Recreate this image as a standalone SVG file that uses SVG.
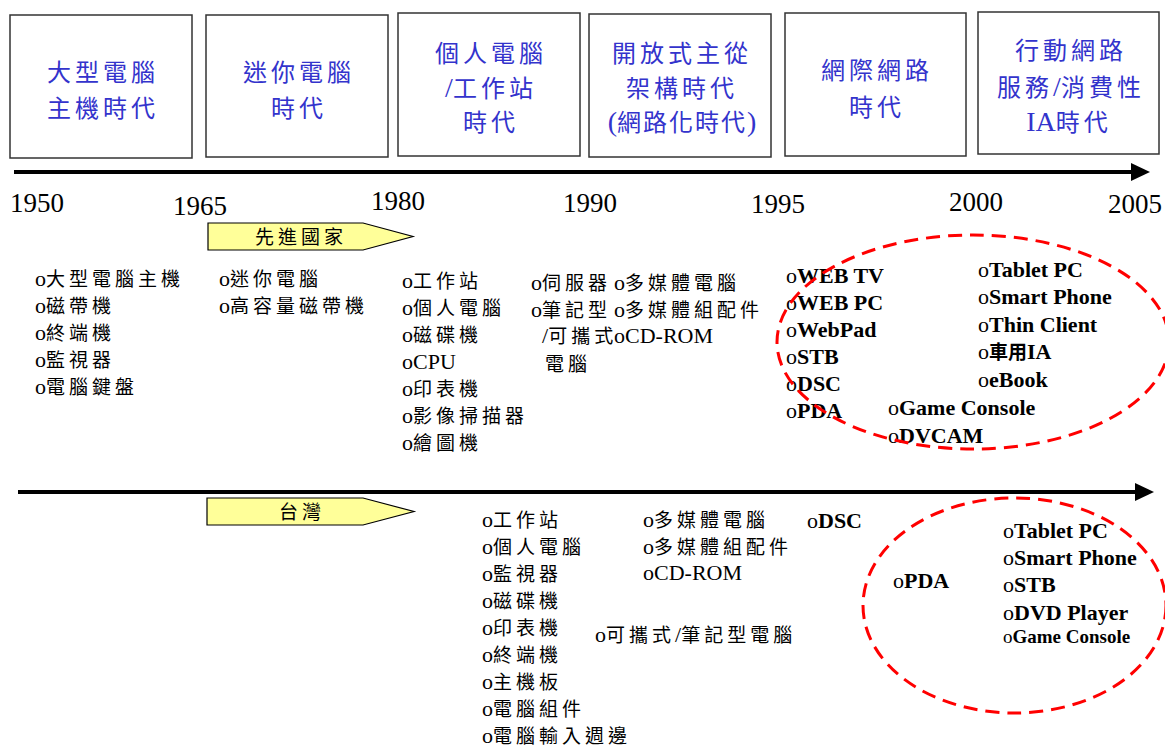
<svg xmlns="http://www.w3.org/2000/svg" width="1165" height="747" viewBox="0 0 1165 747">
<defs>
<style>
.bx{fill:#fff;stroke:#333;stroke-width:1.5}
.bt{font-family:"Liberation Serif","Noto Sans CJK TC",serif;font-size:28px;fill:#3333CC;text-anchor:middle}
.bc{font-size:24px;letter-spacing:4px}
.yr{font-family:"Liberation Serif",serif;font-size:27px;fill:#000}
.li{font-family:"Liberation Serif","Noto Sans CJK TC",serif;font-size:22px;fill:#000}
.c{font-size:19px;letter-spacing:4px}
.b{font-weight:bold}
.axis{stroke:#000;stroke-width:4;fill:none}
.head{fill:#000}
.tag{fill:#FFFF99;stroke:#000;stroke-width:1.2}
.tt{font-family:"Noto Sans CJK TC",sans-serif;font-size:19px;letter-spacing:4px;fill:#000;text-anchor:middle}
.ell{fill:none;stroke:#FF0000;stroke-width:3;stroke-dasharray:14 8}
</style>
</defs>
<rect width="1165" height="747" fill="#fff"/>

<g id="connectors">
  <line class="axis" x1="14" y1="172" x2="1134" y2="172"/>
  <polygon class="head" points="1131,163 1150,172 1131,181"/>
  <line class="axis" x1="18" y1="492" x2="1138" y2="492"/>
  <polygon class="head" points="1135,483 1154,492 1135,501"/>
</g>

<g id="era1">
  <rect class="bx" x="10" y="15" width="182" height="143"/>
  <text class="bt" x="103" y="81"><tspan class="bc">大型電腦</tspan></text>
  <text class="bt" x="103" y="117"><tspan class="bc">主機時代</tspan></text>
</g>
<g id="era2">
  <rect class="bx" x="206" y="15" width="182" height="142"/>
  <text class="bt" x="299" y="81"><tspan class="bc">迷你電腦</tspan></text>
  <text class="bt" x="299" y="117"><tspan class="bc">時代</tspan></text>
</g>
<g id="era3">
  <rect class="bx" x="398" y="13" width="182" height="143"/>
  <text class="bt" x="491" y="62"><tspan class="bc">個人電腦</tspan></text>
  <text class="bt" x="491" y="97">/<tspan class="bc">工作站</tspan></text>
  <text class="bt" x="491" y="131"><tspan class="bc">時代</tspan></text>
</g>
<g id="era4">
  <rect class="bx" x="589" y="14" width="182" height="143"/>
  <text class="bt" x="682" y="62"><tspan class="bc">開放式主從</tspan></text>
  <text class="bt" x="682" y="97"><tspan class="bc">架構時代</tspan></text>
  <text class="bt" x="682" y="131">(<tspan class="bc" style="letter-spacing:2px">網路化時代</tspan>)</text>
</g>
<g id="era5">
  <rect class="bx" x="785" y="13" width="181" height="143"/>
  <text class="bt" x="877" y="79"><tspan class="bc">網際網路</tspan></text>
  <text class="bt" x="877" y="116"><tspan class="bc">時代</tspan></text>
</g>
<g id="era6">
  <rect class="bx" x="978" y="12" width="181" height="142"/>
  <text class="bt" x="1071" y="59"><tspan class="bc">行動網路</tspan></text>
  <text class="bt" x="1071" y="96"><tspan class="bc">服務</tspan>/<tspan class="bc">消費性</tspan></text>
  <text class="bt" x="1069" y="131">IA<tspan class="bc">時代</tspan></text>
</g>

<g id="years">
  <text class="yr" x="10" y="212">1950</text>
  <text class="yr" x="173" y="215">1965</text>
  <text class="yr" x="371" y="210">1980</text>
  <text class="yr" x="563" y="212">1990</text>
  <text class="yr" x="751" y="213">1995</text>
  <text class="yr" x="949" y="211">2000</text>
  <text class="yr" x="1108" y="213">2005</text>
</g>

<g id="tag-advanced">
  <polygon class="tag" points="208,223 363,223 413,236.5 363,250 208,250"/>
  <text class="tt" x="301" y="244">先進國家</text>
</g>
<g id="tag-taiwan">
  <polygon class="tag" points="207,498 363,498 414,511.5 363,525 207,525"/>
  <text class="tt" x="302" y="519">台灣</text>
</g>

<g id="list-1950" class="li">
  <text x="35" y="286">o<tspan class="c">大型電腦主機</tspan></text>
  <text x="35" y="313">o<tspan class="c">磁帶機</tspan></text>
  <text x="35" y="340">o<tspan class="c">終端機</tspan></text>
  <text x="35" y="367">o<tspan class="c">監視器</tspan></text>
  <text x="35" y="394">o<tspan class="c">電腦鍵盤</tspan></text>
</g>
<g id="list-1965" class="li">
  <text x="219" y="286">o<tspan class="c">迷你電腦</tspan></text>
  <text x="219" y="313">o<tspan class="c">高容量磁帶機</tspan></text>
</g>
<g id="list-1980" class="li">
  <text x="402" y="288">o<tspan class="c">工作站</tspan></text>
  <text x="402" y="315">o<tspan class="c">個人電腦</tspan></text>
  <text x="402" y="342">o<tspan class="c">磁碟機</tspan></text>
  <text x="402" y="369">oCPU</text>
  <text x="402" y="396">o<tspan class="c">印表機</tspan></text>
  <text x="402" y="423">o<tspan class="c">影像掃描器</tspan></text>
  <text x="402" y="450">o<tspan class="c">繪圖機</tspan></text>
</g>
<g id="list-1990a" class="li">
  <text x="531" y="290">o<tspan class="c">伺服器</tspan></text>
  <text x="531" y="317">o<tspan class="c">筆記型</tspan></text>
  <text x="542" y="343">/<tspan class="c">可攜式</tspan></text>
  <text x="545" y="371"><tspan class="c">電腦</tspan></text>
</g>
<g id="list-1990b" class="li">
  <text x="614" y="290">o<tspan class="c">多媒體電腦</tspan></text>
  <text x="614" y="317">o<tspan class="c">多媒體組配件</tspan></text>
  <text x="614" y="343">oCD-ROM</text>
</g>
<g id="list-1995" class="li">
  <text x="786" y="283">o<tspan class="b">WEB TV</tspan></text>
  <text x="786" y="310">o<tspan class="b">WEB PC</tspan></text>
  <text x="786" y="337">o<tspan class="b">WebPad</tspan></text>
  <text x="786" y="364">o<tspan class="b">STB</tspan></text>
  <text x="786" y="391">o<tspan class="b">DSC</tspan></text>
  <text x="786" y="418">o<tspan class="b">PDA</tspan></text>
</g>
<g id="list-2000" class="li">
  <text x="978" y="277">o<tspan class="b">Tablet PC</tspan></text>
  <text x="978" y="304">o<tspan class="b">Smart Phone</tspan></text>
  <text x="978" y="332">o<tspan class="b">Thin Client</tspan></text>
  <text x="978" y="359">o<tspan class="b" style="font-size:19px">車用</tspan><tspan class="b">IA</tspan></text>
  <text x="978" y="387">o<tspan class="b">eBook</tspan></text>
  <text x="888" y="415">o<tspan class="b">Game Console</tspan></text>
  <text x="888" y="443">o<tspan class="b">DVCAM</tspan></text>
</g>
<ellipse id="circle-top" class="ell" cx="973" cy="342" rx="196" ry="107"/>

<g id="tw-list-a" class="li">
  <text x="482" y="527">o<tspan class="c">工作站</tspan></text>
  <text x="482" y="554">o<tspan class="c">個人電腦</tspan></text>
  <text x="482" y="581">o<tspan class="c">監視器</tspan></text>
  <text x="482" y="608">o<tspan class="c">磁碟機</tspan></text>
  <text x="482" y="635">o<tspan class="c">印表機</tspan></text>
  <text x="482" y="662">o<tspan class="c">終端機</tspan></text>
  <text x="482" y="689">o<tspan class="c">主機板</tspan></text>
  <text x="482" y="716">o<tspan class="c">電腦組件</tspan></text>
  <text x="482" y="743">o<tspan class="c">電腦輸入週邊</tspan></text>
</g>
<g id="tw-list-b" class="li">
  <text x="595" y="642">o<tspan class="c">可攜式</tspan>/<tspan class="c">筆記型電腦</tspan></text>
</g>
<g id="tw-list-c" class="li">
  <text x="643" y="527">o<tspan class="c">多媒體電腦</tspan></text>
  <text x="643" y="554">o<tspan class="c">多媒體組配件</tspan></text>
  <text x="643" y="580">oCD-ROM</text>
</g>
<g id="tw-list-d" class="li">
  <text x="807" y="528">o<tspan class="b">DSC</tspan></text>
  <text x="893" y="588">o<tspan class="b">PDA</tspan></text>
</g>
<g id="tw-list-e" class="li">
  <text x="1003" y="538">o<tspan class="b">Tablet PC</tspan></text>
  <text x="1003" y="565">o<tspan class="b">Smart Phone</tspan></text>
  <text x="1003" y="592">o<tspan class="b">STB</tspan></text>
  <text x="1003" y="620">o<tspan class="b">DVD Player</tspan></text>
  <text x="1003" y="643" style="font-size:19px">o<tspan class="b">Game Console</tspan></text>
</g>
<ellipse id="circle-bottom" class="ell" cx="1014.5" cy="605.5" rx="151.5" ry="107.5"/>
</svg>
